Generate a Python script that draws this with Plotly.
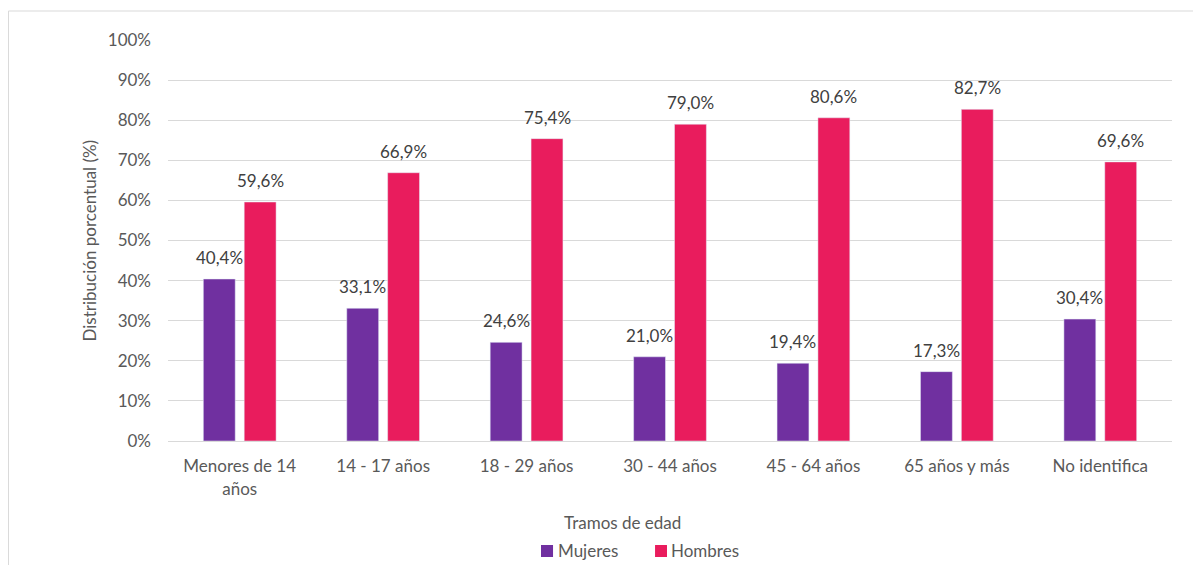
import plotly.graph_objects as go

categories = ["Menores de 14<br>años", "14 - 17 años", "18 - 29 años", "30 - 44 años",
              "45 - 64 años", "65 años y más", "No identifica"]
mujeres = [40.4, 33.1, 24.6, 21.0, 19.4, 17.3, 30.4]
hombres = [59.6, 66.9, 75.4, 79.0, 80.6, 82.7, 69.6]
y_ticks = [0, 10, 20, 30, 40, 50, 60, 70, 80, 90, 100]
y_ticktext = [f"{v}%" for v in y_ticks]
series_names = ["Mujeres", "Hombres"]
series_colors = ["#7030A0", "#E91C5D"]

def fmt(v):
    return f"{v:.1f}%".replace(".", ",")

FONT = "Lato, Calibri, Carlito, sans-serif"
TXT = "#595959"
LBL = "#404040"
FS = 17

fig = go.Figure()
for name, vals, col in zip(series_names, (mujeres, hombres), series_colors):
    fig.add_trace(go.Bar(name=name, x=categories, y=vals, marker_color=col, showlegend=False))

# data labels, positioned from the data through the axes
for vals, shift in ((mujeres, -20.5), (hombres, 20.5)):
    for c, v in zip(categories, vals):
        fig.add_annotation(x=c, y=v, xref="x", yref="y", text=fmt(v), showarrow=False,
                           xshift=shift, yshift=9, yanchor="bottom", xanchor="center",
                           font=dict(family=FONT, size=FS, color=LBL))

fig.update_layout(
    width=1185, height=557,
    margin=dict(l=160, r=21, t=32, b=124),
    paper_bgcolor="white", plot_bgcolor="white",
    font=dict(family=FONT, size=FS, color=TXT),
    barmode="group", bargap=0.43, bargroupgap=0.22,
    showlegend=False,
    xaxis=dict(showgrid=False, showline=True, linecolor="#D9D9D9", linewidth=1,
               ticks="", tickfont=dict(size=FS, color=TXT), ticklabelstandoff=10),
    yaxis=dict(range=[0, 100], tickvals=y_ticks, ticktext=y_ticktext, showgrid=True,
               gridcolor="#D9D9D9", gridwidth=1, zeroline=False, showline=False,
               tickfont=dict(size=FS, color=TXT), ticklabelstandoff=16),
)

fig.add_annotation(text="Tramos de edad", xref="paper", yref="paper", x=0.453, y=-0.204,
                   xanchor="center", yanchor="middle", showarrow=False,
                   font=dict(size=FS, color=TXT))
fig.add_annotation(text="Distribución porcentual (%)", xref="paper", yref="paper",
                   x=-0.0777, y=0.5, textangle=-90, xanchor="center", yanchor="middle",
                   showarrow=False, font=dict(size=FS, color=TXT))

# legend (drawn manually to stay inside the bottom margin)
legend_sq = [(0.3715, 0.3835), (0.4851, 0.4970)]
legend_tx = [0.3865, 0.4990]
for name, col, (sx0, sx1), tx in zip(series_names, series_colors, legend_sq, legend_tx):
    fig.add_shape(type="rect", xref="paper", yref="paper", x0=sx0, x1=sx1,
                  y0=-0.2893, y1=-0.2594, fillcolor=col, line=dict(width=0))
    fig.add_annotation(text=name, xref="paper", yref="paper", x=tx, y=-0.2743,
                       xanchor="left", yanchor="middle", showarrow=False,
                       font=dict(size=FS, color=TXT))

fig.add_shape(type="rect", xref="paper", yref="paper", x0=-0.1589, x1=1.03,
              y0=-0.34, y1=1.0723, line=dict(color="#D9D9D9", width=1), layer="below")

fig.write_html("out.html")
